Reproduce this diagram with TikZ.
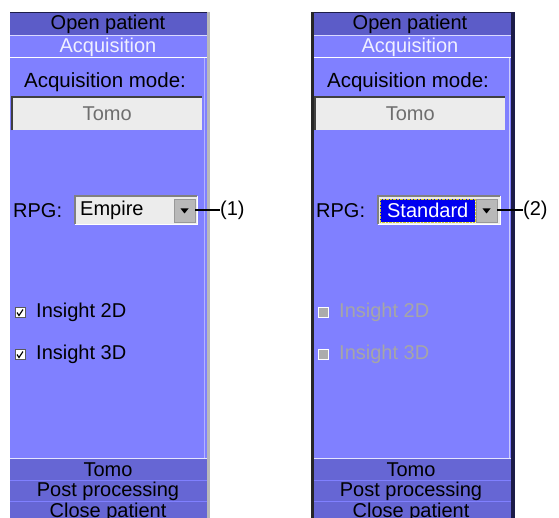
\documentclass[tikz,border=0pt]{standalone}
\usepackage{fontspec}
\setmainfont{Liberation Sans}
\usetikzlibrary{calc,positioning}

\definecolor{hdrdark}{HTML}{5C5CC8}
\definecolor{panelblue}{HTML}{8080FF}
\definecolor{rowdark}{HTML}{6666D4}
\definecolor{boxgray}{HTML}{ECECEC}
\definecolor{textgray}{HTML}{6E6E6E}
\definecolor{navy}{HTML}{1C1C48}
\definecolor{selblue}{HTML}{0000F0}

\begin{document}
\begin{tikzpicture}[x=1pt,y=-1pt]
    \tikzstyle{menu} = [font=\fontsize{20}{22}\selectfont, text=black, inner sep=0pt]
    \tikzstyle{field} = [rectangle, fill=boxgray, inner sep=0pt, font=\fontsize{20}{22}\selectfont, text=textgray]
    \tikzstyle{combo} = [rectangle, fill=boxgray, draw=white, inner sep=0pt, minimum width=122, minimum height=28]
    \tikzstyle{button} = [rectangle, fill=gray!55, draw=gray!80, inner sep=0pt, minimum width=21, minimum height=23]
    \tikzstyle{checkbox} = [rectangle, fill=white, draw=gray!70!black, inner sep=0pt, minimum size=10]
    \tikzstyle{offbox} = [rectangle, fill=gray!65, draw=white, inner sep=0pt, minimum size=10]
    \tikzstyle{offtext} = [menu, text=gray!70]
    \tikzstyle{arrow} = [line width=2, black]

    \useasboundingbox (0,0) rectangle (559,518);

    % left panel
    \fill[panelblue] (10,12) rectangle (207,518);
    \fill[hdrdark] (10,12) rectangle (207,35);
    \draw[navy, line width=1.5] (10,12.5) -- (207,12.5);
    \draw[white!70!panelblue] (10,35.5) -- (207,35.5);
    \draw[white] (10,57.5) -- (207,57.5);
    \draw[white!40!panelblue] (204.5,58) -- (204.5,458);
    \fill[rowdark] (10,459) rectangle (207,518);
    \draw[white!80!panelblue] (10,458.5) -- (207,458.5);
    \draw[panelblue] (10,480.5) -- (207,480.5);
    \draw[panelblue] (10,501.5) -- (207,501.5);
    \fill[gray!55] (207,12) rectangle (209.5,518);

    \node (openL) [menu] at (108,24) {Open patient};
    \node (acqL) [menu, text=white!88!panelblue] at (108,47) {Acquisition};
    \node (modeL) [menu, font=\fontsize{20.5}{22}\selectfont] at (105,82) {Acquisition mode:};
    \node (tomoboxL) [field, minimum width=190, minimum height=33, anchor=north west] at (12,97) {Tomo};
    \draw[black!75, line width=1.5] (tomoboxL.south west) -- (tomoboxL.north west) -- (tomoboxL.north east);

    \node (rpgL) [menu, anchor=west] at (13,210.5) {RPG:};
    \node (comboL) [combo, anchor=north west] at (75,196) {};
    \draw[gray, line width=1.2] (comboL.south west) -- (comboL.north west) -- (comboL.north east);
    \node (empire) [menu, anchor=west] at (80,210.5) {Empire};
    \node (btnL) [button] at (184.5,210.5) {};
    \fill ($(btnL.center)+(-4,-2)$) -- ++(8,0) -- ++(-4,5) -- cycle;
    \node (oneL) [menu, anchor=west] at (220,210.5) {(1)};
    \draw [arrow] (btnL.east) -- (oneL.west);

    \node (chk2L) [checkbox] at (20,312.5) {};
    \draw[line width=1.2] ($(chk2L.center)+(-3,0)$) -- ++(2,3) -- ++(4,-6);
    \node (ins2L) [menu, anchor=west] at (36,312.5) {Insight 2D};
    \node (chk3L) [checkbox] at (20,354.5) {};
    \draw[line width=1.2] ($(chk3L.center)+(-3,0)$) -- ++(2,3) -- ++(4,-6);
    \node (ins3L) [menu, anchor=west] at (36,354.5) {Insight 3D};

    \node (tomoL) [menu] at (108,470) {Tomo};
    \node (postL) [menu] at (108,491) {Post processing};
    \node (closeL) [menu] at (108,512) {Close patient};

    % right panel
    \fill[panelblue] (311,12) rectangle (515,518);
    \fill[hdrdark] (311,12) rectangle (515,35);
    \draw[navy, line width=1.5] (311,12.5) -- (515,12.5);
    \draw[white!70!panelblue] (311,35.5) -- (515,35.5);
    \draw[white] (311,57.5) -- (515,57.5);
    \draw[white!60!panelblue] (509.5,58) -- (509.5,458);
    \fill[rowdark] (311,459) rectangle (515,518);
    \draw[white!80!panelblue] (311,458.5) -- (515,458.5);
    \draw[panelblue] (311,480.5) -- (515,480.5);
    \draw[panelblue] (311,501.5) -- (515,501.5);
    \fill[black!85] (311,12) rectangle (314,518);
    \fill[navy] (511,12) rectangle (515,518);

    \node (openR) [menu] at (410,24) {Open patient};
    \node (acqR) [menu, text=white!88!panelblue] at (410,47) {Acquisition};
    \node (modeR) [menu, font=\fontsize{20.5}{22}\selectfont] at (408,82) {Acquisition mode:};
    \node (tomoboxR) [field, minimum width=190, minimum height=33, anchor=north west] at (315,97) {Tomo};
    \draw[black!75, line width=1.5] (tomoboxR.south west) -- (tomoboxR.north west) -- (tomoboxR.north east);

    \node (rpgR) [menu, anchor=west] at (316,210.5) {RPG:};
    \node (comboR) [combo, anchor=north west] at (378,196) {};
    \draw[gray, line width=1.2] (comboR.south west) -- (comboR.north west) -- (comboR.north east);
    \node (standard) [menu, text=white, fill=selblue, draw=yellow!80!black, densely dotted,
        minimum width=95, minimum height=23, anchor=west, inner xsep=3pt] at (380,210.5) {Standard\hfill};
    \node (btnR) [button] at (486.5,210.5) {};
    \fill ($(btnR.center)+(-4,-2)$) -- ++(8,0) -- ++(-4,5) -- cycle;
    \node (twoR) [menu, anchor=west] at (523,210.5) {(2)};
    \draw [arrow] (btnR.east) -- (twoR.west);

    \node (chk2R) [offbox] at (323,312.5) {};
    \node (ins2R) [offtext, anchor=west] at (339,312.5) {Insight 2D};
    \node (chk3R) [offbox] at (323,354.5) {};
    \node (ins3R) [offtext, anchor=west] at (339,354.5) {Insight 3D};

    \node (tomoR) [menu] at (411,470) {Tomo};
    \node (postR) [menu] at (411,491) {Post processing};
    \node (closeR) [menu] at (411,512) {Close patient};
\end{tikzpicture}
\end{document}
